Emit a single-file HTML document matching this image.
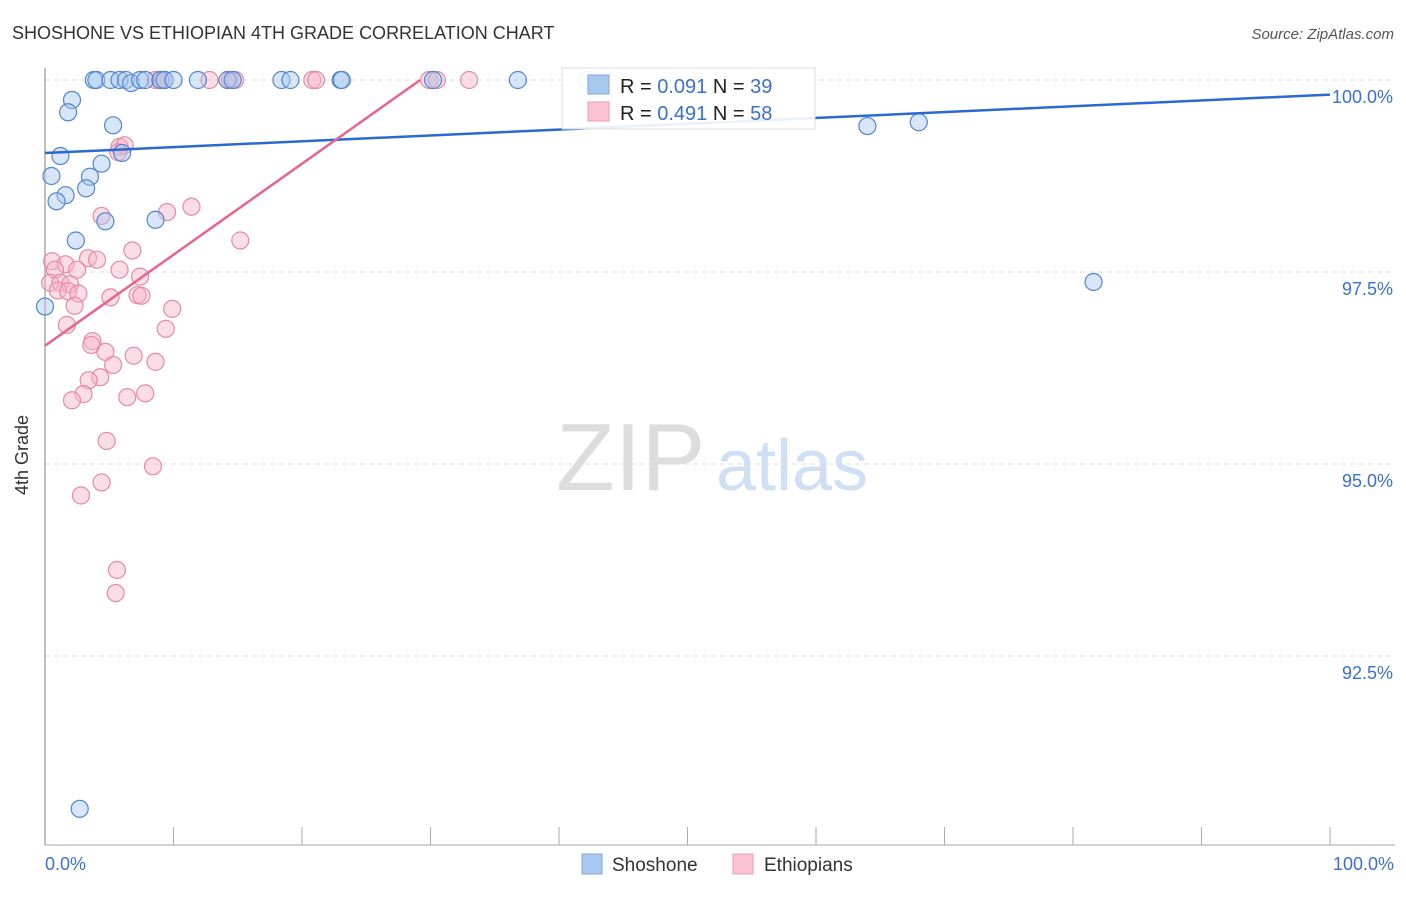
<!DOCTYPE html>
<html><head><meta charset="utf-8"><style>
body{margin:0;background:#fff;font-family:"Liberation Sans",sans-serif;}
svg text{font-family:"Liberation Sans",sans-serif;}
</style></head><body>
<svg width="1406" height="892" viewBox="0 0 1406 892">
<text x="12" y="39" font-size="18" fill="#333">SHOSHONE VS ETHIOPIAN 4TH GRADE CORRELATION CHART</text>
<text x="1394" y="39" font-size="15" fill="#555" font-style="italic" text-anchor="end">Source: ZipAtlas.com</text>
<text x="556" y="490" font-size="96" fill="#ddd" font-family="Liberation Serif">ZIP</text>
<text x="716" y="490" font-size="72" fill="#cfe0f5">atlas</text>
<g id="grid"></g>
<line x1="45" y1="68" x2="45" y2="845" stroke="#aaa" stroke-width="1.5"/>
<line x1="45" y1="845" x2="1395" y2="845" stroke="#aaa" stroke-width="1"/>
<g id="xticks"></g>
<text x="28" y="455" font-size="18" fill="#333" transform="rotate(-90 28 455)" text-anchor="middle">4th Grade</text>
<text x="45" y="870" font-size="18" fill="#3b6fd1">0.0%</text>
<text x="1394" y="870" font-size="18" fill="#3b6fd1" text-anchor="end">100.0%</text>
<g id="points"></g>
<g id="lines"></g>
<g>
<rect x="562" y="68" width="253" height="61" fill="#fff" fill-opacity="0.9" stroke="#ddd"/>
<rect x="588" y="75" width="21" height="19" fill="#a9c8f0" stroke="#7aa6e0"/>
<text x="620" y="93" font-size="20" fill="#222">R = <tspan fill="#3b6fd1">0.091</tspan>   N = <tspan fill="#3b6fd1">39</tspan></text>
<rect x="588" y="102" width="21" height="19" fill="#fbc3d2" stroke="#f09ab2"/>
<text x="620" y="120" font-size="20" fill="#222">R = <tspan fill="#3b6fd1">0.491</tspan>   N = <tspan fill="#3b6fd1">58</tspan></text>
</g>
<g>
<rect x="582" y="854" width="20" height="20" fill="#a9c8f0" stroke="#7aa6e0"/>
<text x="612" y="871" font-size="19" fill="#333">Shoshone</text>
<rect x="733" y="854" width="20" height="20" fill="#fbc3d2" stroke="#f09ab2"/>
<text x="764" y="871" font-size="19" fill="#333">Ethiopians</text>
</g>
</svg>
<script>
const yTicks=[100,97.5,95,92.5];
const yTickLabels=["100.0%","97.5%","95.0%","92.5%"];
const shoshoneX=[3.8,4.0,5.1,5.8,6.3,6.7,7.4,7.8,9.0,9.3,10.0,11.9,14.2,14.6,18.4,19.1,23.0,23.1,30.2,36.8,42.2,2.1,1.8,5.3,1.2,6.0,4.4,0.5,3.5,3.2,1.6,0.9,4.7,8.6,2.4,0.0,2.7,64.0,68.0,81.6];
const shoshoneY=[100,100,100,100,100,99.96,100,100,100,100,100,100,100,100,100,100,100,100,100,100,100,99.74,99.58,99.41,99.01,99.05,98.91,98.75,98.74,98.59,98.5,98.42,98.16,98.18,97.91,97.05,90.51,99.4,99.45,97.37];
const ethX=[8.6,8.95,9.3,12.8,14.4,14.8,20.8,21.1,29.9,30.5,33.0,5.8,6.2,5.7,11.4,9.5,4.4,15.2,6.8,0.55,1.6,3.35,4.05,0.78,2.5,5.8,0.4,1.2,1.95,7.4,1.0,1.8,2.6,5.1,7.2,7.5,2.3,9.9,1.7,9.4,3.7,3.6,4.7,6.9,8.6,5.3,4.3,3.4,3.0,2.1,6.4,7.8,4.8,8.4,4.4,2.8,5.6,5.5];
const ethY=[100,100,100,100,100,100,100,100,100,100,100,99.13,99.15,99.06,98.35,98.28,98.23,97.91,97.78,97.64,97.6,97.68,97.66,97.53,97.53,97.53,97.36,97.36,97.34,97.44,97.26,97.25,97.22,97.17,97.2,97.19,97.06,97.02,96.81,96.76,96.6,96.55,96.46,96.41,96.33,96.29,96.13,96.09,95.91,95.83,95.87,95.92,95.3,94.97,94.76,94.59,93.62,93.32];
const shoshoneLine=[99.05,99.81];
const ethLine=[96.54,100];const ethLineEndX=29.2;
const NS="http://www.w3.org/2000/svg";
const X=v=>45+v*12.85, Y=v=>80+(100-v)*76.8;
const grid=document.getElementById('grid');
yTicks.forEach((t,i)=>{
 const l=document.createElementNS(NS,'line');
 l.setAttribute('x1',45);l.setAttribute('x2',1395);l.setAttribute('y1',Y(t));l.setAttribute('y2',Y(t));
 l.setAttribute('stroke','#ddd');l.setAttribute('stroke-dasharray','5,4');
 
 
 grid.appendChild(l);
 const tx=document.createElementNS(NS,'text');
 tx.setAttribute('x',1393);tx.setAttribute('y',Y(t)+23);tx.setAttribute('font-size','18');tx.setAttribute('fill','#3b6fd1');tx.setAttribute('text-anchor','end');
 tx.textContent=yTickLabels[i];
 
 
 grid.appendChild(tx);
});
const xt=document.getElementById('xticks');
for(let i=0;i<=10;i++){
 const l=document.createElementNS(NS,'line');
 const x=X(i*10);
 l.setAttribute('x1',x);l.setAttribute('x2',x);l.setAttribute('y1',827);l.setAttribute('y2',845);l.setAttribute('stroke','#aaa');
 
 
 xt.appendChild(l);
}
const pts=document.getElementById('points');
function dot(x,y,fill,stroke,name){
 const c=document.createElementNS(NS,'circle');
 c.setAttribute('cx',X(x));c.setAttribute('cy',Y(y));c.setAttribute('r',8.5);
 c.setAttribute('fill',fill);c.setAttribute('fill-opacity','0.45');c.setAttribute('stroke',stroke);c.setAttribute('stroke-width','1.2');
 
 
 pts.appendChild(c);
}
ethX.forEach((x,i)=>dot(x,ethY[i],'#f7b4c8','#e889a6','ethiopians-point'));
shoshoneX.forEach((x,i)=>dot(x,shoshoneY[i],'#a9c8f0','#4f86d6','shoshone-point'));
const lines=document.getElementById('lines');
function ln(x1,y1,x2,y2,col,name){
 const l=document.createElementNS(NS,'line');
 l.setAttribute('x1',X(x1));l.setAttribute('y1',Y(y1));l.setAttribute('x2',X(x2));l.setAttribute('y2',Y(y2));
 l.setAttribute('stroke',col);l.setAttribute('stroke-width','2.5');
 
 
 lines.appendChild(l);
}
ln(0,shoshoneLine[0],100,shoshoneLine[1],'#2a6ad0','shoshone-trend-line');
ln(0,ethLine[0],ethLineEndX,ethLine[1],'#e8648e','ethiopians-trend-line');
</script>
</body></html>
